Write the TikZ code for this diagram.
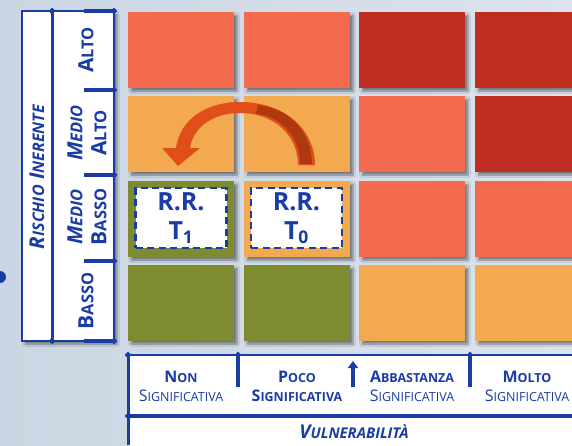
\documentclass[tikz,border=0pt]{standalone}
\usepackage{fontspec}
\usepackage{graphicx}
\setmainfont{Open Sans}
\usetikzlibrary{shadows.blur,arrows.meta,shapes.geometric}
\definecolor{myblue}{HTML}{1A3CA5}
\definecolor{lred}{HTML}{F26B4F}
\definecolor{dred}{HTML}{BF2D21}
\definecolor{orng}{HTML}{F2A94F}
\definecolor{olive}{HTML}{7F8B30}
\definecolor{arr}{HTML}{E04E1A}
\definecolor{arrd}{HTML}{B0380F}
\definecolor{bgl}{HTML}{CAD6E3}
\definecolor{bgr}{HTML}{DCE3EC}
\newcommand\Sc[2]{#1\scalebox{0.78}{#2}}
\begin{document}
\begin{tikzpicture}[x=1pt,y=-1pt,
  cell/.style={draw=none,inner sep=0,minimum width=106pt,minimum height=76pt,
    blur shadow={shadow xshift=3pt,shadow yshift=-3pt,shadow blur steps=6,shadow opacity=45}},
  rrbox/.style={fill=white,draw=myblue,line width=2.6pt,dash pattern=on 7pt off 4.5pt,
    minimum width=91pt,minimum height=60pt,inner sep=0,align=center,text=myblue,
    font=\fontsize{25pt}{29pt}\selectfont\bfseries},
  dia/.style={diamond,fill=myblue,inner sep=0,minimum size=7pt},
  panel/.style={fill=white,draw=myblue,line width=1.8pt,
    blur shadow={shadow xshift=3pt,shadow yshift=-3pt,shadow blur steps=6,shadow opacity=45}},
  thick line/.style={draw=myblue,line width=4pt},
  lbl/.style={text=myblue,inner sep=0,align=center,font=\fontsize{16pt}{19pt}\selectfont\bfseries},
  vlbl/.style={text=myblue,inner sep=0,align=center,rotate=90,font=\fontsize{21pt}{24pt}\selectfont\bfseries}]
\useasboundingbox (0,0) rectangle (572,445);
\clip (0,0) rectangle (572,445);
\shade[left color=bgl,right color=bgr] (0,0) rectangle (572,445);

% grid cells
\foreach \r/\y in {1/50,2/134,3/219,4/303}{
  \foreach \c/\x in {1/181,2/297,3/412,4/528}{
    \coordinate (p\r\c) at (\x,\y);
  }
}
\node[cell,fill=lred]  (c11) at (p11) {};
\node[cell,fill=lred]  (c12) at (p12) {};
\node[cell,fill=dred]  (c13) at (p13) {};
\node[cell,fill=dred]  (c14) at (p14) {};
\node[cell,fill=orng]  (c21) at (p21) {};
\node[cell,fill=orng]  (c22) at (p22) {};
\node[cell,fill=lred]  (c23) at (p23) {};
\node[cell,fill=dred]  (c24) at (p24) {};
\node[cell,fill=olive] (c31) at (p31) {};
\node[cell,fill=orng]  (c32) at (p32) {};
\node[cell,fill=lred]  (c33) at (p33) {};
\node[cell,fill=lred]  (c34) at (p34) {};
\node[cell,fill=olive] (c41) at (p41) {};
\node[cell,fill=olive] (c42) at (p42) {};
\node[cell,fill=orng]  (c43) at (p43) {};
\node[cell,fill=orng]  (c44) at (p44) {};

% R.R. boxes
\node[rrbox] (rr1) at (181,218) {R.R.\\T\textsubscript{1}};
\node[rrbox] (rr0) at (296.5,218) {R.R.\\T\textsubscript{0}};

% curved arrow
\fill[arr] (298,165) .. controls (298,136) and (275,113) .. (240,113)
  .. controls (212,113) and (193,128) .. (190,148)
  -- (200,148) -- (178,166) -- (162,148) -- (176,148)
  .. controls (180,120) and (205,102) .. (240,102)
  .. controls (285,102) and (315,130) .. (315,165) -- cycle;
\fill[arrd] (300,164) .. controls (300,138) and (282,116) .. (256,114)
  -- (258,105) .. controls (292,109) and (312,134) .. (312,164) -- cycle;

% left panel
\draw[panel] (22,11) rectangle (114,341);
\draw[myblue,line width=3pt] (52,11) -- (52,341);
\coordinate (t0) at (114,11);
\coordinate (t1) at (114,90);
\coordinate (t2) at (114,175);
\coordinate (t3) at (114,261);
\coordinate (t4) at (114,341);
\foreach \t in {t0,t1,t2,t3,t4}{ \draw[thick line] (\t) -- ++(-30,0); \node[dia] at (\t) {}; }
\node[dia] (dtop) at (52,11) {};
\node[dia] (dbot) at (52,341) {};

\node[vlbl,font=\fontsize{20.5pt}{24pt}\selectfont\bfseries\itshape] (ri) at (37,177) {\Sc{R}{ISCHIO} \Sc{I}{NERENTE}};
\node[vlbl] (la) at (86,50) {\Sc{A}{LTO}};
\node[vlbl] (lma) at (87,133) {\textit{\Sc{M}{EDIO}}\\\Sc{A}{LTO}};
\node[vlbl] (lmb) at (87,217) {\textit{\Sc{M}{EDIO}}\\\Sc{B}{ASSO}};
\node[vlbl] (lb) at (86,301) {\Sc{B}{ASSO}};

\fill[myblue] (0,277) circle (6);

% bottom panel
\fill[white,blur shadow={shadow xshift=3pt,shadow yshift=-3pt,shadow blur steps=6,shadow opacity=35}] (128,355) rectangle (580,450);
\draw[myblue,line width=2.5pt] (128,355) -- (572,355);
\draw[myblue,line width=3pt] (128,355) -- (128,445);
\draw[myblue,line width=4pt] (128,416) -- (572,416);
\draw[thick line] (238,357) -- (238,387);
\draw[thick line] (470,357) -- (470,387);
\node[dia] (b0) at (128,355) {};
\node[dia] (b1) at (128,416) {};
\node[dia] (b2) at (238,355) {};
\node[dia] (b3) at (470,355) {};
\coordinate (ua) at (353,387);
\coordinate (ub) at (353,361);
\draw[myblue,line width=4pt,-{Triangle[length=7pt,width=10pt]}] (ua) -- (ub);

\node[lbl] (n1) at (181,386) {\Sc{N}{ON}\\\mdseries\Sc{S}{IGNIFICATIVA}};
\node[lbl] (n2) at (297,386) {\Sc{P}{OCO}\\\Sc{S}{IGNIFICATIVA}};
\node[lbl] (n3) at (412,386) {\Sc{A}{BBASTANZA}\\\mdseries\Sc{S}{IGNIFICATIVA}};
\node[lbl] (n4) at (527,386) {\Sc{M}{OLTO}\\\mdseries\Sc{S}{IGNIFICATIVA}};
\node[lbl,font=\fontsize{19pt}{19pt}\selectfont\bfseries\itshape] (vu) at (354,432) {\Sc{V}{ULNERABILITÀ}};
\end{tikzpicture}
\end{document}
